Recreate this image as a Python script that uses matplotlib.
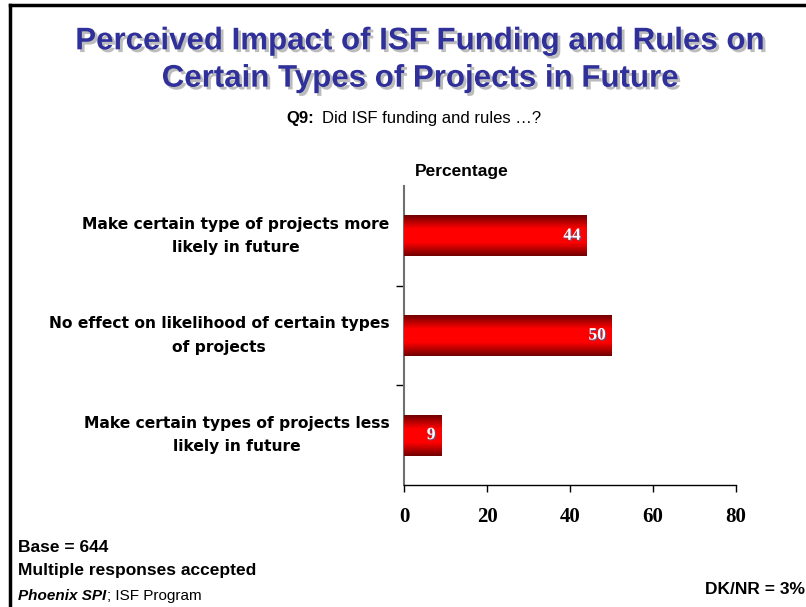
import matplotlib
matplotlib.use("Agg")
import matplotlib.pyplot as plt
import matplotlib.patheffects as pe
import numpy as np
from matplotlib.colors import LinearSegmentedColormap

categories = [
    "Make certain type of projects more\nlikely in future",
    "No effect on likelihood of certain types\nof projects",
    "Make certain types of projects less\nlikely in future",
]
values = [44, 50, 9]
xticks = [0, 20, 40, 60, 80]

fig = plt.figure(figsize=(8.06, 6.07), dpi=100)
W, H = 806, 607

# frame lines (top and left)
fig.add_artist(plt.Line2D([10 / W, 1.0], [1 - 5 / H, 1 - 5 / H], color="black", lw=2.5))
fig.add_artist(plt.Line2D([10 / W, 10 / W], [0, 1 - 5 / H], color="black", lw=2.5))

ax = fig.add_axes([404 / W, 1 - 485 / H, (736 - 404) / W, (485 - 186) / H])

ypos = np.arange(len(categories))
bars = ax.barh(ypos, values, height=0.41, color="#e00000", edgecolor="none", zorder=2)

cmap = LinearSegmentedColormap.from_list("redgrad", ["#700000", "#ff0000", "#ff0000", "#700000"])
grad = np.linspace(0, 1, 256).reshape(-1, 1)
for b in bars:
    x0, y0, w, h = b.get_x(), b.get_y(), b.get_width(), b.get_height()
    im = ax.imshow(grad, cmap=cmap, aspect="auto", extent=(x0, x0 + w, y0 + h, y0),
                   zorder=3, interpolation="bicubic")
    im.set_clip_path(b)

ax.set_xlim(0, 80)
ax.set_ylim(len(categories) - 0.5, -0.5)

for b, v in zip(bars, values):
    ax.text(b.get_width() - 1.4, b.get_y() + b.get_height() / 2, str(v),
            ha="right", va="center", color="white", fontsize=12.5, fontweight="bold",
            family="Liberation Serif", zorder=5,
            path_effects=[pe.withSimplePatchShadow(offset=(0.8, -0.8), shadow_rgbFace="#5060a0", alpha=0.8)])

ax.set_xticks(xticks)
ax.set_xticklabels([str(t) for t in xticks], family="Liberation Serif", fontweight="bold", fontsize=15)
ax.tick_params(axis="x", direction="out", length=5, width=1, pad=11)

# category boundary ticks on y axis
ax.set_yticks([0.5, 1.5])
ax.set_yticklabels([])
ax.tick_params(axis="y", direction="out", length=6, width=1)
for i, c in enumerate(categories):
    ax.text(-3.5, i, c, ha="right", va="center", multialignment="center",
            fontsize=11.2, fontweight="bold", family="DejaVu Sans", linespacing=1.7)

for s in ["top", "right"]:
    ax.spines[s].set_visible(False)
ax.spines["left"].set_color("#707070")
ax.spines["left"].set_linewidth(1.5)
ax.spines["bottom"].set_linewidth(1)

ax.text(415 / W, 1 - 171 / H, "Percentage", transform=fig.transFigure, ha="left", va="center",
        fontsize=12.5, fontweight="bold", family="Liberation Sans")

# title
fig.text(420 / W, 1 - 60 / H, "Perceived Impact of ISF Funding and Rules on\nCertain Types of Projects in Future",
         ha="center", va="center", multialignment="center", fontsize=22.5, fontweight="bold",
         family="Liberation Sans", color="#30309a", linespacing=1.32,
         path_effects=[pe.withSimplePatchShadow(offset=(2, -2), shadow_rgbFace="#909090", alpha=0.6)])

# subtitle
fig.text(286 / W, 1 - 119 / H, "Q9:", ha="left", va="center", fontsize=12, fontweight="bold", family="Liberation Sans")
fig.text(322 / W, 1 - 119 / H, "Did ISF funding and rules \u2026?", ha="left", va="center", fontsize=12,
         family="Liberation Sans")

# footnotes
fig.text(18 / W, 1 - 547 / H, "Base = 644", ha="left", va="center", fontsize=12.5, fontweight="bold",
         family="Liberation Sans")
fig.text(18 / W, 1 - 571 / H, "Multiple responses accepted", ha="left", va="center", fontsize=12.5,
         fontweight="bold", family="Liberation Sans")
tp = fig.text(18 / W, 1 - 596 / H, "Phoenix SPI", ha="left", va="center", fontsize=11, fontweight="bold",
              fontstyle="italic", family="Liberation Sans")
r = fig.canvas.get_renderer()
ext = tp.get_window_extent(renderer=r)
fig.text(ext.x1 / W + 1 / W, 1 - 596 / H, "; ISF Program", ha="left", va="center", fontsize=11,
         family="Liberation Sans")
fig.text(805 / W, 1 - 589 / H, "DK/NR = 3%", ha="right", va="center", fontsize=12.5, fontweight="bold",
         family="Liberation Sans")

fig.savefig("out.png", dpi=100)
